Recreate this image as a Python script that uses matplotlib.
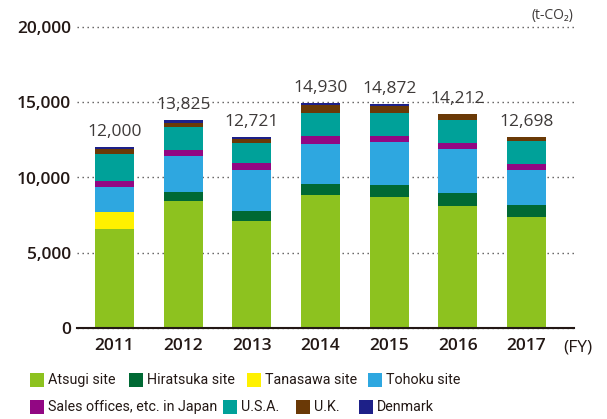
import matplotlib
matplotlib.use("Agg")
import matplotlib.pyplot as plt
from matplotlib import font_manager
from matplotlib.patches import Rectangle
import numpy as np

# Fiscal years and reported totals (t-CO2)
years = ["2011", "2012", "2013", "2014", "2015", "2016", "2017"]
totals = [12000, 13825, 12721, 14930, 14872, 14212, 12698]

# Emissions by site / region, stacked bottom to top
atsugi = [6570, 8440, 7130, 8810, 8700, 8100, 7390]
hiratsuka = [0, 620, 665, 776, 776, 865, 776]
tanasawa = [1130, 0, 0, 0, 0, 0, 0]
tohoku = [1660, 2370, 2730, 2662, 2850, 2900, 2310]
sales_japan = [400, 400, 466, 532, 399, 399, 399]
usa = [1790, 1530, 1331, 1530, 1530, 1530, 1530]
uk = [330, 265, 222, 488, 488, 418, 293]
denmark = [120, 200, 177, 132, 129, 0, 0]

series_labels = ["Atsugi site", "Hiratsuka site", "Tanasawa site", "Tohoku site",
                 "Sales offices, etc. in Japan", "U.S.A.", "U.K.", "Denmark"]
series_values = [atsugi, hiratsuka, tanasawa, tohoku, sales_japan, usa, uk, denmark]
series_colors = ["#8DC21F", "#006934", "#FFF100", "#2EA7E0",
                 "#920783", "#00A199", "#6A3906", "#1D2088"]

TEXT = "#231815"
W, H = 607, 419

fonts = {f.name for f in font_manager.fontManager.ttflist}
main_family = ["Open Sans", "DejaVu Sans"]
if "Roboto" in fonts:
    legend_font = dict(family=["Roboto", "DejaVu Sans"], size=10.3)
else:
    legend_font = dict(family=["DejaVu Sans"], size=9.5)

plt.rcParams["font.family"] = main_family

fig = plt.figure(figsize=(W / 100, H / 100), dpi=100)
ax_left, ax_right, ax_top, ax_bottom = 77, 574, 27, 328
ax = fig.add_axes([ax_left / W, 1 - ax_bottom / H,
                   (ax_right - ax_left) / W, (ax_bottom - ax_top) / H])

x = np.arange(len(years))
bottom = np.zeros(len(years))
for vals, col in zip(series_values, series_colors):
    v = np.array(vals, dtype=float)
    ax.bar(x, v, width=0.57, bottom=bottom, color=col, linewidth=0, zorder=3)
    bottom += v

for xi, t in zip(x, totals):
    ax.annotate(f"{t:,}", (xi, t), xytext=(0, 5), textcoords="offset points",
                ha="center", va="bottom", fontsize=12.5, color="#3E3A39")

ax.set_xlim(-0.546, 6.69)
ax.set_ylim(0, 20000)
ax.set_yticks([0, 5000, 10000, 15000, 20000])
ax.set_yticklabels([f"{v:,}" for v in [0, 5000, 10000, 15000, 20000]],
                   fontsize=12.5, fontweight="semibold", color=TEXT)
ax.set_xticks(x)
ax.set_xticklabels(years, fontsize=12.5, fontweight="semibold", color=TEXT)
ax.tick_params(axis="both", length=0)
ax.tick_params(axis="y", pad=4.5)
ax.tick_params(axis="x", pad=7)

ax.yaxis.grid(True, linestyle=(0, (1, 2.6)), color="#595757", linewidth=1, zorder=0)
for gl in ax.get_ygridlines():
    gl.set_clip_on(False)
ax.set_axisbelow(True)

for side in ["left", "right", "top"]:
    ax.spines[side].set_visible(False)
ax.spines["bottom"].set_color(TEXT)
ax.spines["bottom"].set_linewidth(1.5)
ax.spines["bottom"].set_zorder(4)

fig.text(563 / W, 1 - 347 / H, "(FY)", ha="left", va="center",
         fontsize=12.5, color=TEXT)
fig.text(532 / W, 1 - 15 / H, "(t-CO₂)", ha="left", va="center",
         fontsize=10, color="#3E3A39")

# Legend, two rows of colour swatches
legend_pos = [(30, 380), (129, 380), (247, 380), (368, 380),
              (30, 407), (223, 407), (296, 407), (359, 407)]
sq = 14
for (px, py), lab, col in zip(legend_pos, series_labels, series_colors):
    fig.add_artist(Rectangle((px / W, 1 - (py + sq / 2) / H), sq / W, sq / H,
                             transform=fig.transFigure, color=col, linewidth=0))
    fig.text((px + sq + 4) / W, 1 - py / H, lab, ha="left", va="center",
             color=TEXT, **legend_font)

fig.savefig("out.png", dpi=100)
